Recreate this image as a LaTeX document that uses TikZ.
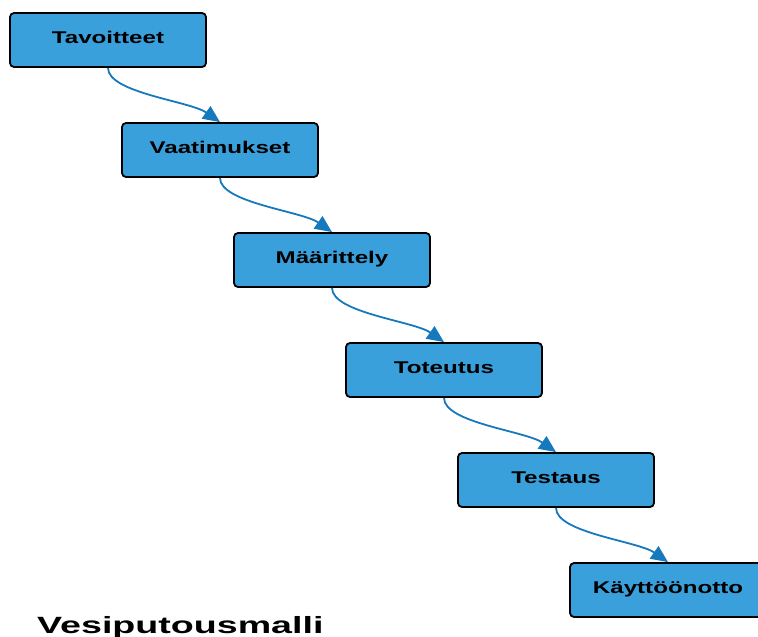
\documentclass[tikz,border=0pt]{standalone}
\usepackage{fontspec}
\setmainfont{Liberation Sans}
\usetikzlibrary{arrows.meta}
\definecolor{boxfill}{RGB}{58,160,220}
\definecolor{flowblue}{RGB}{22,121,190}
\tikzset{
  phase/.style={draw=black, line width=1.8pt, fill=boxfill, rounded corners=4pt,
    minimum width=196pt, minimum height=54pt, inner sep=0pt,
    text height=12.5pt, text depth=5.6pt,
    font=\fontsize{17pt}{19pt}\selectfont\bfseries},
  flow/.style={draw=flowblue, line width=1.8pt,
    -{Triangle[length=17pt,width=15pt]}},
}
\newcommand{\wide}[1]{\scalebox{1.42}[1]{#1}}
\begin{document}
\begin{tikzpicture}[x=1pt,y=-1pt]
  \useasboundingbox (0,0) rectangle (758,637);
  % the phases, stepping down and to the right
  \node[phase] (p1) at (108,40)  {\wide{Tavoitteet}};
  \node[phase] (p2) at (220,150) {\wide{Vaatimukset}};
  \node[phase] (p3) at (332,260) {\wide{Määrittely}};
  \node[phase] (p4) at (444,370) {\wide{Toteutus}};
  \node[phase] (p5) at (556,480) {\wide{Testaus}};
  \node[phase] (p6) at (668,590) {\wide{Käyttöönotto}};
  % curved connectors between consecutive phases
  \foreach \a/\b in {p1/p2,p2/p3,p3/p4,p4/p5,p5/p6}
    \draw[flow] (\a.south) .. controls +(0,25) and +(-30,-21) .. (\b.north);
  % title
  \node[anchor=base west, inner sep=0pt,
    font=\fontsize{23.5pt}{26pt}\selectfont\bfseries] (title) at (37,633)
    {\scalebox{1.6}[1]{Vesiputousmalli}};
\end{tikzpicture}
\end{document}
